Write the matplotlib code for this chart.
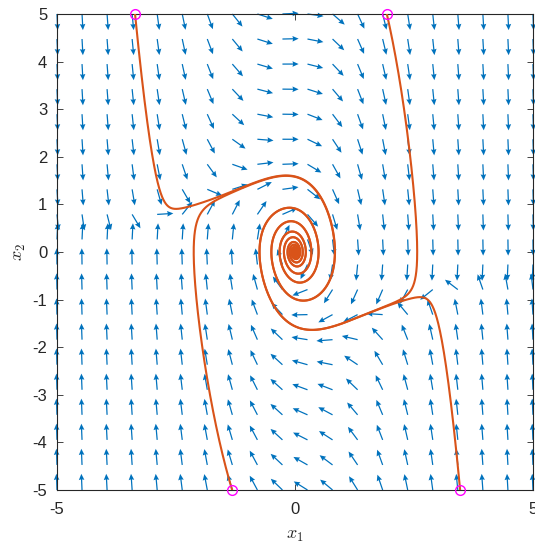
import numpy as np
import matplotlib
matplotlib.use('Agg')
import matplotlib.pyplot as plt

plt.rcParams['font.family'] = ['Liberation Sans', 'DejaVu Sans']
plt.rcParams['mathtext.fontset'] = 'cm'
plt.rcParams['axes.unicode_minus'] = False

# quiver grid
x1_grid = np.linspace(-5, 5, 20)
x2_grid = np.linspace(-5, 5, 20)

# system parameters: x1' = x2, x2' = -a x1 - (b + d x1 + c x1^2) x2 + k x2^2
a_spring = 2.5
b_damp = 0.35
c_damp = 1.0
d_damp = -0.15
k_quad = 0.075

# trajectory starting points (magenta circles)
x1_starts = [-3.36, 1.93, -1.32, 3.47]
x2_starts = [5.0, 5.0, -5.0, -5.0]

# axis ticks
x_ticks = [-5, 0, 5]
y_ticks = [-5, -4, -3, -2, -1, 0, 1, 2, 3, 4, 5]


def field(x1, x2):
    f1 = x2
    f2 = -a_spring * x1 - (b_damp + d_damp * x1 + c_damp * x1 ** 2) * x2 + k_quad * x2 ** 2
    return f1, f2


def integrate(x10, x20, dt=0.002, T=60.0):
    n = int(T / dt)
    xs = np.empty(n + 1)
    ys = np.empty(n + 1)
    x, y = x10, x20
    xs[0], ys[0] = x, y
    for i in range(n):
        k1 = field(x, y)
        k2 = field(x + 0.5 * dt * k1[0], y + 0.5 * dt * k1[1])
        k3 = field(x + 0.5 * dt * k2[0], y + 0.5 * dt * k2[1])
        k4 = field(x + dt * k3[0], y + dt * k3[1])
        x = x + dt / 6 * (k1[0] + 2 * k2[0] + 2 * k3[0] + k4[0])
        y = y + dt / 6 * (k1[1] + 2 * k2[1] + 2 * k3[1] + k4[1])
        xs[i + 1], ys[i + 1] = x, y
    return xs, ys


fig = plt.figure(figsize=(5.35, 5.46), dpi=100)
ax = fig.add_axes([0.1065, 0.1026, 0.8897, 0.8718])

X1, X2 = np.meshgrid(x1_grid, x2_grid)
U, V = field(X1, X2)
L = np.hypot(U, V)
L[L == 0] = 1
arrow_len = 0.34
ax.quiver(X1, X2, arrow_len * U / L, arrow_len * V / L, angles='xy', scale_units='xy', scale=1,
          color='#0072BD', width=0.0026, headwidth=4.5, headlength=5, headaxislength=4.5,
          pivot='tail', zorder=2, clip_on=False)

for sx, sy in zip(x1_starts, x2_starts):
    xs, ys = integrate(sx, sy)
    ax.plot(xs, ys, color='#D95319', lw=1.5, zorder=3)
    ax.plot([sx], [sy], 'o', mfc='none', mec='#FF00FF', ms=7, mew=1.0, zorder=4, clip_on=False)

ax.set_xlim(-5, 5)
ax.set_ylim(-5, 5)
ax.set_xticks(x_ticks)
ax.set_yticks(y_ticks)
ax.tick_params(direction='in', top=True, right=True, length=4, width=0.6, labelsize=12,
               colors='#262626')
ax.tick_params(axis='x', pad=9)
ax.tick_params(axis='y', pad=7)
for s in ax.spines.values():
    s.set_linewidth(0.8)
    s.set_color('#262626')
ax.set_xlabel(r'$x_1$', fontsize=13, labelpad=7, color='#262626')
ax.set_ylabel(r'$x_2$', fontsize=13, labelpad=3, color='#262626')

fig.savefig('out.png', dpi=100)
